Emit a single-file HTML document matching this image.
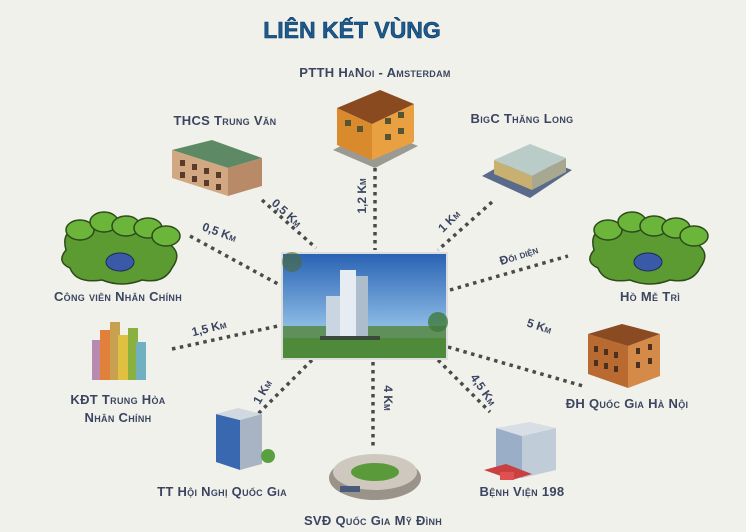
<!DOCTYPE html>
<html><head><meta charset="utf-8"><style>
html,body{margin:0;padding:0;background:#f1f1ec;}
svg{display:block}
text{font-family:"Liberation Sans","DejaVu Sans",sans-serif;font-variant:small-caps;font-weight:bold;fill:#3b4560;}
.l{font-size:13px;letter-spacing:0.3px}
.d{font-size:12px}
line{stroke:#4a4a4a;stroke-width:3.5;stroke-dasharray:3.5 4.5}
</style></head><body>
<svg width="746" height="532" viewBox="0 0 746 532">
<defs>
<linearGradient id="sky" x1="0" y1="0" x2="0" y2="1"><stop offset="0" stop-color="#2a63b4"/><stop offset="0.7" stop-color="#8cbbe4"/><stop offset="1" stop-color="#cfe2f0"/></linearGradient>
</defs>
<rect width="746" height="532" fill="#f1f1ec"/>
<text x="352" y="38" text-anchor="middle" style="font-variant:normal;font-size:23px;fill:#1d5b8c;stroke:#0d3a66;stroke-width:0.6">LIÊN KẾT VÙNG</text>

<!-- connectors -->
<line x1="375" y1="168" x2="375" y2="250"/>
<line x1="262" y1="200" x2="316" y2="248"/>
<line x1="492" y1="202" x2="438" y2="250"/>
<line x1="190" y1="236" x2="278" y2="284"/>
<line x1="450" y1="290" x2="568" y2="256"/>
<line x1="172" y1="349" x2="278" y2="326"/>
<line x1="448" y1="347" x2="583" y2="386"/>
<line x1="312" y1="360" x2="258" y2="414"/>
<line x1="373" y1="362" x2="373" y2="446"/>
<line x1="438" y1="360" x2="490" y2="412"/>

<!-- distance labels -->
<text class="d" transform="translate(366,196) rotate(-90)" text-anchor="middle">1,2 Km</text>
<text class="d" transform="translate(284,216) rotate(42)" text-anchor="middle">0,5 Km</text>
<text class="d" transform="translate(452,224) rotate(-45)" text-anchor="middle">1 Km</text>
<text class="d" transform="translate(218,236) rotate(20)" text-anchor="middle">0,5 Km</text>
<text class="d" transform="translate(520,259) rotate(-18)" text-anchor="middle">Đối diện</text>
<text class="d" transform="translate(210,332) rotate(-14)" text-anchor="middle">1,5 Km</text>
<text class="d" transform="translate(538,330) rotate(18)" text-anchor="middle">5 Km</text>
<text class="d" transform="translate(266,394) rotate(-60)" text-anchor="middle">1 Km</text>
<text class="d" transform="translate(384,398) rotate(90)" text-anchor="middle">4 Km</text>
<text class="d" transform="translate(480,392) rotate(55)" text-anchor="middle">4,5 Km</text>

<!-- center image -->
<rect x="281" y="252" width="167" height="108" fill="#ddd"/>
<rect x="283" y="254" width="163" height="104" fill="url(#sky)"/>
<rect x="283" y="335" width="163" height="23" fill="#4f8a3a"/>
<rect x="283" y="326" width="163" height="12" fill="#5f8f5a"/>
<rect x="326" y="296" width="14" height="42" fill="#c9d5e0"/>
<rect x="340" y="270" width="16" height="68" fill="#e6ecf2"/>
<rect x="356" y="276" width="12" height="62" fill="#aebdcc"/>
<rect x="320" y="336" width="60" height="4" fill="#3a4a3a"/>
<circle cx="292" cy="262" r="10" fill="#4c6a3a" opacity="0.6"/>
<circle cx="438" cy="322" r="10" fill="#3f7a3a" opacity="0.8"/>

<!-- PTTH building -->
<polygon points="333,150 375,168 418,146 376,128" fill="#9a9a92"/>
<polygon points="337,108 372,124 372,160 337,145" fill="#d98a2c"/>
<polygon points="372,124 414,104 414,142 372,160" fill="#e9a040"/>
<polygon points="337,108 372,124 414,104 380,90" fill="#8a4a20"/>
<rect x="345" y="120" width="6" height="6" fill="#553"/><rect x="357" y="126" width="6" height="6" fill="#553"/>
<rect x="385" y="118" width="6" height="6" fill="#553"/><rect x="398" y="112" width="6" height="6" fill="#553"/>
<rect x="385" y="134" width="6" height="6" fill="#553"/><rect x="398" y="128" width="6" height="6" fill="#553"/>
<text class="l" x="375" y="77" text-anchor="middle">PTTH HaNoi - Amsterdam</text>

<!-- THCS building -->
<polygon points="172,150 228,168 262,158 212,140" fill="#5d8a64"/>
<polygon points="172,150 228,168 228,196 172,178" fill="#d2a882"/>
<polygon points="228,168 262,158 262,186 228,196" fill="#b88a68"/>
<g fill="#5a3a2a"><rect x="180" y="160" width="5" height="6"/><rect x="192" y="164" width="5" height="6"/><rect x="204" y="168" width="5" height="6"/><rect x="216" y="172" width="5" height="6"/><rect x="180" y="172" width="5" height="6"/><rect x="192" y="176" width="5" height="6"/><rect x="204" y="180" width="5" height="6"/><rect x="216" y="184" width="5" height="6"/></g>
<text class="l" x="225" y="125" text-anchor="middle">THCS Trung Văn</text>

<!-- BigC -->
<polygon points="482,176 530,198 572,170 524,152" fill="#5a6a8a"/>
<polygon points="494,160 532,176 532,190 494,174" fill="#c8b070"/>
<polygon points="532,176 566,158 566,172 532,190" fill="#a8a890"/>
<polygon points="494,160 532,176 566,158 530,144" fill="#b9ccc8"/>
<text class="l" x="522" y="123" text-anchor="middle">BigC Thăng Long</text>

<!-- trees left -->
<g>
<path d="M66,250 q-6,-22 18,-22 q10,-12 28,-6 q16,-8 30,4 q24,-4 24,16 q18,10 6,26 q-8,16 -30,12 q-20,8 -40,0 q-26,4 -32,-12 q-14,-6 -4,-18z" fill="#5c9a32" stroke="#2c4a1a" stroke-width="1.5"/>
<ellipse cx="120" cy="262" rx="14" ry="9" fill="#3a5aa8" stroke="#1a2a5a"/>
<g fill="#6bb53a" stroke="#2c4a1a" stroke-width="1.5"><ellipse cx="80" cy="230" rx="14" ry="10"/><ellipse cx="104" cy="222" rx="14" ry="10"/><ellipse cx="126" cy="226" rx="14" ry="10"/><ellipse cx="148" cy="228" rx="14" ry="10"/><ellipse cx="166" cy="236" rx="14" ry="10"/></g>
</g>
<text class="l" x="118" y="301" text-anchor="middle">Công viên Nhân Chính</text>

<!-- trees right -->
<g>
<path d="M594,250 q-6,-22 18,-22 q10,-12 28,-6 q16,-8 30,4 q24,-4 24,16 q18,10 6,26 q-8,16 -30,12 q-20,8 -40,0 q-26,4 -32,-12 q-14,-6 -4,-18z" fill="#5c9a32" stroke="#2c4a1a" stroke-width="1.5"/>
<ellipse cx="648" cy="262" rx="14" ry="9" fill="#3a5aa8" stroke="#1a2a5a"/>
<g fill="#6bb53a" stroke="#2c4a1a" stroke-width="1.5"><ellipse cx="608" cy="230" rx="14" ry="10"/><ellipse cx="632" cy="222" rx="14" ry="10"/><ellipse cx="654" cy="226" rx="14" ry="10"/><ellipse cx="676" cy="228" rx="14" ry="10"/><ellipse cx="694" cy="236" rx="14" ry="10"/></g>
</g>
<text class="l" x="650" y="301" text-anchor="middle">Hồ Mễ Trì</text>

<!-- KDT -->
<rect x="92" y="340" width="10" height="40" fill="#b88ab0"/>
<rect x="100" y="330" width="12" height="50" fill="#e0803a"/>
<rect x="110" y="322" width="10" height="58" fill="#c9a050"/>
<rect x="118" y="335" width="12" height="45" fill="#e0c040"/>
<rect x="128" y="328" width="10" height="52" fill="#8ab040"/>
<rect x="136" y="342" width="10" height="38" fill="#70b0c0"/>
<text class="l" x="118" y="404" text-anchor="middle">KĐT Trung Hòa</text>
<text class="l" x="118" y="422" text-anchor="middle">Nhân Chính</text>

<!-- ĐH -->
<polygon points="588,334 628,346 628,388 588,374" fill="#b86a30"/>
<polygon points="628,346 660,334 660,376 628,388" fill="#d48a48"/>
<polygon points="588,334 628,346 660,334 622,324" fill="#8a4a22"/>
<g fill="#4a3020"><rect x="594" y="346" width="4" height="6"/><rect x="604" y="349" width="4" height="6"/><rect x="614" y="352" width="4" height="6"/><rect x="594" y="360" width="4" height="6"/><rect x="604" y="363" width="4" height="6"/><rect x="614" y="366" width="4" height="6"/><rect x="636" y="348" width="4" height="6"/><rect x="648" y="344" width="4" height="6"/><rect x="636" y="362" width="4" height="6"/><rect x="648" y="358" width="4" height="6"/></g>
<text class="l" x="627" y="408" text-anchor="middle">ĐH Quốc Gia Hà Nội</text>

<!-- TT -->
<polygon points="216,414 240,420 240,470 216,462" fill="#3a68b0"/>
<polygon points="240,420 262,414 262,464 240,470" fill="#a8b4c4"/>
<polygon points="216,414 240,420 262,414 238,408" fill="#d0d8e0"/>
<circle cx="268" cy="456" r="7" fill="#5aa040"/>
<text class="l" x="222" y="496" text-anchor="middle">TT Hội Nghị Quốc Gia</text>

<!-- Stadium -->
<ellipse cx="375" cy="478" rx="46" ry="22" fill="#9a938a"/>
<ellipse cx="375" cy="472" rx="42" ry="18" fill="#cfc8be"/>
<ellipse cx="375" cy="472" rx="24" ry="9" fill="#5a9a3a"/>
<rect x="340" y="486" width="20" height="6" fill="#4a5a7a"/>
<text class="l" x="373" y="525" text-anchor="middle">SVĐ Quốc Gia Mỹ Đình</text>

<!-- Hospital -->
<polygon points="496,428 522,436 522,478 496,470" fill="#9aaec8"/>
<polygon points="522,436 556,428 556,470 522,478" fill="#c0ccd8"/>
<polygon points="496,428 522,436 556,428 530,422" fill="#d8dee6"/>
<polygon points="484,470 512,480 532,474 506,464" fill="#c84040"/>
<rect x="500" y="472" width="14" height="8" fill="#e05050"/>
<text class="l" x="522" y="496" text-anchor="middle">Bệnh Viện 198</text>
</svg>
</body></html>
